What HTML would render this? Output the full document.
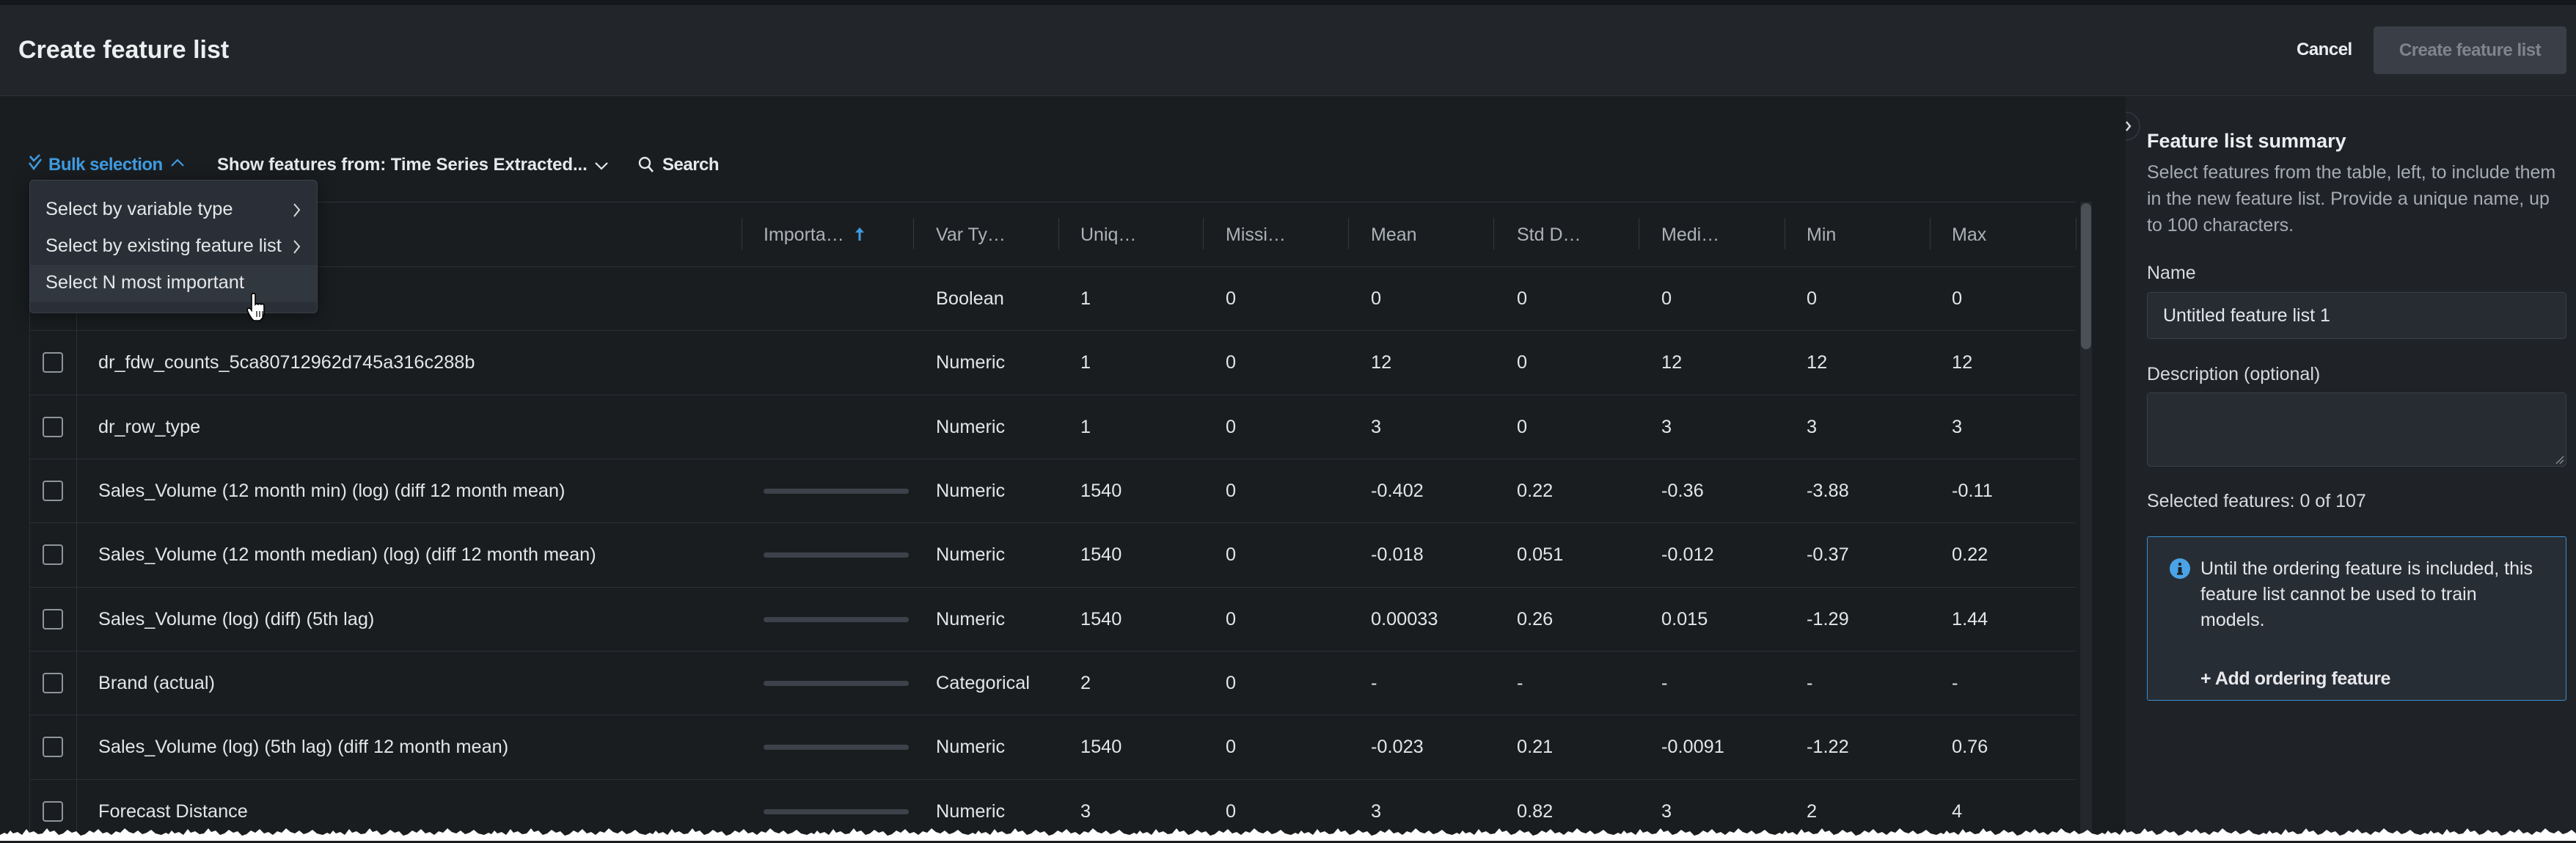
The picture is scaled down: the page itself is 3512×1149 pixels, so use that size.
<!DOCTYPE html>
<html><head><meta charset="utf-8">
<style>
*{margin:0;padding:0;box-sizing:border-box}
html,body{width:3512px;height:1146px;overflow:hidden;background:#1a1d20;font-family:"Liberation Sans",Arial,sans-serif;color:#e3e5e8}
.a{position:absolute;white-space:nowrap}
.hdr{position:absolute;left:0;top:0;width:3512px;height:131px;background:#22262b;border-bottom:1px solid #2f3338}
.strip{position:absolute;left:0;top:0;width:3512px;height:7px;background:#15181b}
.panel{position:absolute;left:2898px;top:131px;width:614px;height:1015px;background:#1f2227}
.b{font-weight:bold;letter-spacing:-0.5px}
.row{position:absolute;left:40px;width:2790px;height:87.33px;border-top:1px solid #2b2f35}
.row .a{line-height:86px;font-size:25.3px;top:0}
.cb{position:absolute;left:18px;top:29px;width:28px;height:28px;border:2px solid #8f959b;border-radius:4px}
.bar{position:absolute;left:1001px;top:40px;width:198px;height:7px;border-radius:4px;background:#3d424a}
.th{position:absolute;top:302px;font-size:25px;line-height:36px;color:#adb2b8}
.dv{position:absolute;top:297px;width:1px;height:43px;background:#33383e}
</style></head><body>
<div class="hdr"></div>
<div class="strip"></div>
<div class="a b" style="left:25px;top:48px;font-size:34px;line-height:40px;letter-spacing:0;color:#eceef0">Create feature list</div>
<div class="a b" style="left:3131px;top:53px;font-size:24px;line-height:30px;color:#eceef0">Cancel</div>
<div class="a" style="left:3236px;top:36px;width:263px;height:65px;border-radius:5px;background:#3a3f47"></div>
<div class="a b" style="left:3236px;top:36px;width:263px;height:65px;line-height:65px;text-align:center;font-size:24px;color:#7f858d">Create feature list</div>

<!-- toolbar -->
<svg class="a" style="left:36px;top:208px" width="26" height="30" viewBox="0 0 26 30"><polyline points="5,5 10,11 18,3" fill="none" stroke="#3f9be0" stroke-width="2.6"/><polyline points="4,14 10,22 20,9" fill="none" stroke="#3f9be0" stroke-width="2.6"/></svg>
<div class="a b" style="left:66px;top:210px;font-size:24px;line-height:30px;color:#3f9be0">Bulk selection</div>
<svg class="a" style="left:232px;top:214px" width="20" height="16"><polyline points="2,12 10,4 18,12" fill="none" stroke="#3f9be0" stroke-width="2.2"/></svg>
<div class="a b" style="left:296px;top:210px;font-size:24px;line-height:30px;letter-spacing:-0.1px;color:#e6e8eb">Show features from: Time Series Extracted...</div>
<svg class="a" style="left:810px;top:218px" width="20" height="16"><polyline points="2,4 10,12 18,4" fill="none" stroke="#e6e8eb" stroke-width="2.2"/></svg>
<svg class="a" style="left:869px;top:212px" width="26" height="26"><circle cx="10" cy="10" r="7" fill="none" stroke="#e6e8eb" stroke-width="2.4"/><line x1="15" y1="15" x2="21" y2="22" stroke="#e6e8eb" stroke-width="2.6"/></svg>
<div class="a b" style="left:903px;top:210px;font-size:24px;line-height:30px;color:#e6e8eb">Search</div>

<!-- table frame -->
<div class="a" style="left:40px;top:275px;width:2790px;height:1px;background:#2f3338"></div>
<div class="a" style="left:40px;top:275px;width:1px;height:871px;background:#2b2f35"></div>
<div class="a" style="left:104px;top:363px;width:1px;height:783px;background:#2b2f35"></div>
<div class="dv" style="left:1011px"></div><div class="dv" style="left:1245px"></div><div class="dv" style="left:1443px"></div><div class="dv" style="left:1640px"></div><div class="dv" style="left:1838px"></div><div class="dv" style="left:2036px"></div><div class="dv" style="left:2234px"></div><div class="dv" style="left:2433px"></div><div class="dv" style="left:2631px"></div><div class="dv" style="left:2830px"></div>
<div class="th a" style="left:1041px">Importa…</div>
<svg class="a" style="left:1165px;top:309px" width="14" height="20"><line x1="7" y1="4" x2="7" y2="19" stroke="#3f9be0" stroke-width="3"/><polygon points="1,8 7,1 13,8" fill="#3f9be0"/></svg>
<div class="th a" style="left:1276px">Var Ty…</div>
<div class="th a" style="left:1473px">Uniq…</div>
<div class="th a" style="left:1671px">Missi…</div>
<div class="th a" style="left:1869px">Mean</div>
<div class="th a" style="left:2068px">Std D…</div>
<div class="th a" style="left:2265px">Medi…</div>
<div class="th a" style="left:2463px">Min</div>
<div class="th a" style="left:2661px">Max</div>

<!-- rows -->
<div class="row" style="top:363px"><div class="a" style="left:1236px">Boolean</div><div class="a" style="left:1433px">1</div><div class="a" style="left:1631px">0</div><div class="a" style="left:1829px">0</div><div class="a" style="left:2028px">0</div><div class="a" style="left:2225px">0</div><div class="a" style="left:2423px">0</div><div class="a" style="left:2621px">0</div></div>
<div class="row" style="top:450.33px"><div class="cb"></div><div class="a" style="left:94px">dr_fdw_counts_5ca80712962d745a316c288b</div><div class="a" style="left:1236px">Numeric</div><div class="a" style="left:1433px">1</div><div class="a" style="left:1631px">0</div><div class="a" style="left:1829px">12</div><div class="a" style="left:2028px">0</div><div class="a" style="left:2225px">12</div><div class="a" style="left:2423px">12</div><div class="a" style="left:2621px">12</div></div>
<div class="row" style="top:537.67px"><div class="cb"></div><div class="a" style="left:94px">dr_row_type</div><div class="a" style="left:1236px">Numeric</div><div class="a" style="left:1433px">1</div><div class="a" style="left:1631px">0</div><div class="a" style="left:1829px">3</div><div class="a" style="left:2028px">0</div><div class="a" style="left:2225px">3</div><div class="a" style="left:2423px">3</div><div class="a" style="left:2621px">3</div></div>
<div class="row" style="top:625px"><div class="cb"></div><div class="a" style="left:94px">Sales_Volume (12 month min) (log) (diff 12 month mean)</div><div class="bar"></div><div class="a" style="left:1236px">Numeric</div><div class="a" style="left:1433px">1540</div><div class="a" style="left:1631px">0</div><div class="a" style="left:1829px">-0.402</div><div class="a" style="left:2028px">0.22</div><div class="a" style="left:2225px">-0.36</div><div class="a" style="left:2423px">-3.88</div><div class="a" style="left:2621px">-0.11</div></div>
<div class="row" style="top:712.33px"><div class="cb"></div><div class="a" style="left:94px">Sales_Volume (12 month median) (log) (diff 12 month mean)</div><div class="bar"></div><div class="a" style="left:1236px">Numeric</div><div class="a" style="left:1433px">1540</div><div class="a" style="left:1631px">0</div><div class="a" style="left:1829px">-0.018</div><div class="a" style="left:2028px">0.051</div><div class="a" style="left:2225px">-0.012</div><div class="a" style="left:2423px">-0.37</div><div class="a" style="left:2621px">0.22</div></div>
<div class="row" style="top:799.67px"><div class="cb"></div><div class="a" style="left:94px">Sales_Volume (log) (diff) (5th lag)</div><div class="bar"></div><div class="a" style="left:1236px">Numeric</div><div class="a" style="left:1433px">1540</div><div class="a" style="left:1631px">0</div><div class="a" style="left:1829px">0.00033</div><div class="a" style="left:2028px">0.26</div><div class="a" style="left:2225px">0.015</div><div class="a" style="left:2423px">-1.29</div><div class="a" style="left:2621px">1.44</div></div>
<div class="row" style="top:887px"><div class="cb"></div><div class="a" style="left:94px">Brand (actual)</div><div class="bar"></div><div class="a" style="left:1236px">Categorical</div><div class="a" style="left:1433px">2</div><div class="a" style="left:1631px">0</div><div class="a" style="left:1829px">-</div><div class="a" style="left:2028px">-</div><div class="a" style="left:2225px">-</div><div class="a" style="left:2423px">-</div><div class="a" style="left:2621px">-</div></div>
<div class="row" style="top:974.33px"><div class="cb"></div><div class="a" style="left:94px">Sales_Volume (log) (5th lag) (diff 12 month mean)</div><div class="bar"></div><div class="a" style="left:1236px">Numeric</div><div class="a" style="left:1433px">1540</div><div class="a" style="left:1631px">0</div><div class="a" style="left:1829px">-0.023</div><div class="a" style="left:2028px">0.21</div><div class="a" style="left:2225px">-0.0091</div><div class="a" style="left:2423px">-1.22</div><div class="a" style="left:2621px">0.76</div></div>
<div class="row" style="top:1061.67px"><div class="cb"></div><div class="a" style="left:94px">Forecast Distance</div><div class="bar"></div><div class="a" style="left:1236px">Numeric</div><div class="a" style="left:1433px">3</div><div class="a" style="left:1631px">0</div><div class="a" style="left:1829px">3</div><div class="a" style="left:2028px">0.82</div><div class="a" style="left:2225px">3</div><div class="a" style="left:2423px">2</div><div class="a" style="left:2621px">4</div></div>

<!-- scrollbar -->
<div class="a" style="left:2836px;top:275px;width:16px;height:871px;background:#24282d"></div>
<div class="a" style="left:2837px;top:277px;width:14px;height:199px;border-radius:7px;background:#4b5056"></div>

<!-- dropdown -->
<div class="a" style="left:40px;top:245px;width:393px;height:182px;background:#2a2f37;border:1px solid #3a3f47;border-radius:6px;box-shadow:0 4px 24px rgba(0,0,0,0.45);overflow:hidden">
<div class="a" style="left:0;top:115px;width:393px;height:51px;background:#31373f"></div>
</div>
<div class="a" style="left:62px;top:267px;font-size:25.4px;line-height:36px;color:#e5e7ea">Select by variable type</div>
<div class="a" style="left:62px;top:317px;font-size:25.4px;line-height:36px;color:#e5e7ea">Select by existing feature list</div>
<div class="a" style="left:62px;top:367px;font-size:25.4px;line-height:36px;color:#e5e7ea">Select N most important</div>
<svg class="a" style="left:398px;top:276px" width="14" height="22"><polyline points="3,2 10,10 3,19" fill="none" stroke="#d6d9dc" stroke-width="2"/></svg>
<svg class="a" style="left:398px;top:326px" width="14" height="22"><polyline points="3,2 10,10 3,19" fill="none" stroke="#d6d9dc" stroke-width="2"/></svg>
<svg class="a" style="left:334px;top:398px" width="40" height="40" viewBox="0 0 40 40"><path d="M9 3 q3 -2 5 0 v14 q2 -2 4 0 q2 -2 4 0 q2 -2 4 1 v10 q0 7 -6 11 h-8 q-4 -3 -8 -12 q-2 -4 1 -5 q2 0 4 3 v-22 z" fill="#fff" stroke="#000" stroke-width="1.6"/><line x1="16" y1="26" x2="16" y2="34" stroke="#000" stroke-width="1.2"/><line x1="20" y1="26" x2="20" y2="34" stroke="#000" stroke-width="1.2"/><line x1="24" y1="26" x2="24" y2="34" stroke="#000" stroke-width="1.2"/></svg>

<!-- right panel -->
<div class="panel"></div>
<svg class="a" style="left:2898px;top:150px" width="24" height="44"><path d="M0 3 A19 19 0 0 1 0 41" fill="none" stroke="#34383e" stroke-width="1.5"/><polyline points="1,16 6,22 1,28" fill="none" stroke="#dcdfe2" stroke-width="2.4"/></svg>
<div class="a" style="left:2927px;top:174px;font-size:27px;line-height:36px;font-weight:bold;color:#eceef0">Feature list summary</div>
<div class="a" style="left:2927px;top:217px;font-size:25px;line-height:36px;color:#a7acb2">Select features from the table, left, to include them<br>in the new feature list. Provide a unique name, up<br>to 100 characters.</div>
<div class="a" style="left:2927px;top:354px;font-size:25px;line-height:36px;color:#d6d9dc">Name</div>
<div class="a" style="left:2927px;top:398px;width:572px;height:64px;background:#272c33;border:1.5px solid #3b4048;border-radius:5px"></div>
<div class="a" style="left:2949px;top:412px;font-size:25px;line-height:36px;color:#e3e5e8">Untitled feature list 1</div>
<div class="a" style="left:2927px;top:492px;font-size:25px;line-height:36px;color:#d6d9dc">Description (optional)</div>
<div class="a" style="left:2927px;top:535px;width:572px;height:101px;background:#272c33;border:1.5px solid #3b4048;border-radius:5px"></div>
<svg class="a" style="left:3483px;top:620px" width="14" height="14"><line x1="2" y1="12" x2="12" y2="2" stroke="#9aa0a6" stroke-width="1.2"/><line x1="7" y1="12" x2="12" y2="7" stroke="#9aa0a6" stroke-width="1.2"/></svg>
<div class="a" style="left:2927px;top:665px;font-size:25px;line-height:36px;color:#d8dadd">Selected features: 0 of 107</div>
<div class="a" style="left:2927px;top:731px;width:572px;height:224px;background:#272d35;border:1.5px solid #3a8fd0;border-radius:3px"></div>
<svg class="a" style="left:2958px;top:761px" width="28" height="28"><circle cx="14" cy="14" r="14" fill="#4aa3e6"/><circle cx="14" cy="8" r="2.2" fill="#1f2227"/><rect x="11.5" y="12" width="5" height="10" fill="#1f2227"/><rect x="10" y="20" width="8" height="2.5" fill="#1f2227"/></svg>
<div class="a" style="left:3000px;top:758px;font-size:25px;line-height:35px;color:#e3e5e8">Until the ordering feature is included, this<br>feature list cannot be used to train<br>models.</div>
<div class="a" style="left:3000px;top:907px;font-size:25px;line-height:36px;font-weight:bold;letter-spacing:-0.4px;color:#e6e8eb">+ Add ordering feature</div>

<!-- torn edge -->
<svg class="a" style="left:0;top:1126px" width="3512" height="20">
<defs><pattern id="t" x="0" y="0" width="220" height="20" patternUnits="userSpaceOnUse">
<polygon fill="#fff" points="0,12 6,9 10,11 14,6 18,10 24,8 30,12 36,4 40,9 46,7 52,11 58,10 64,3 68,8 74,6 80,12 86,10 92,5 98,9 104,7 110,13 116,11 122,6 128,9 134,4 140,10 146,8 152,12 158,7 164,9 170,3 176,8 182,10 188,6 194,11 200,9 206,5 212,10 220,12 220,20 0,20"/>
</pattern></defs>
<rect width="3512" height="20" fill="url(#t)"/>
</svg>
</body></html>
